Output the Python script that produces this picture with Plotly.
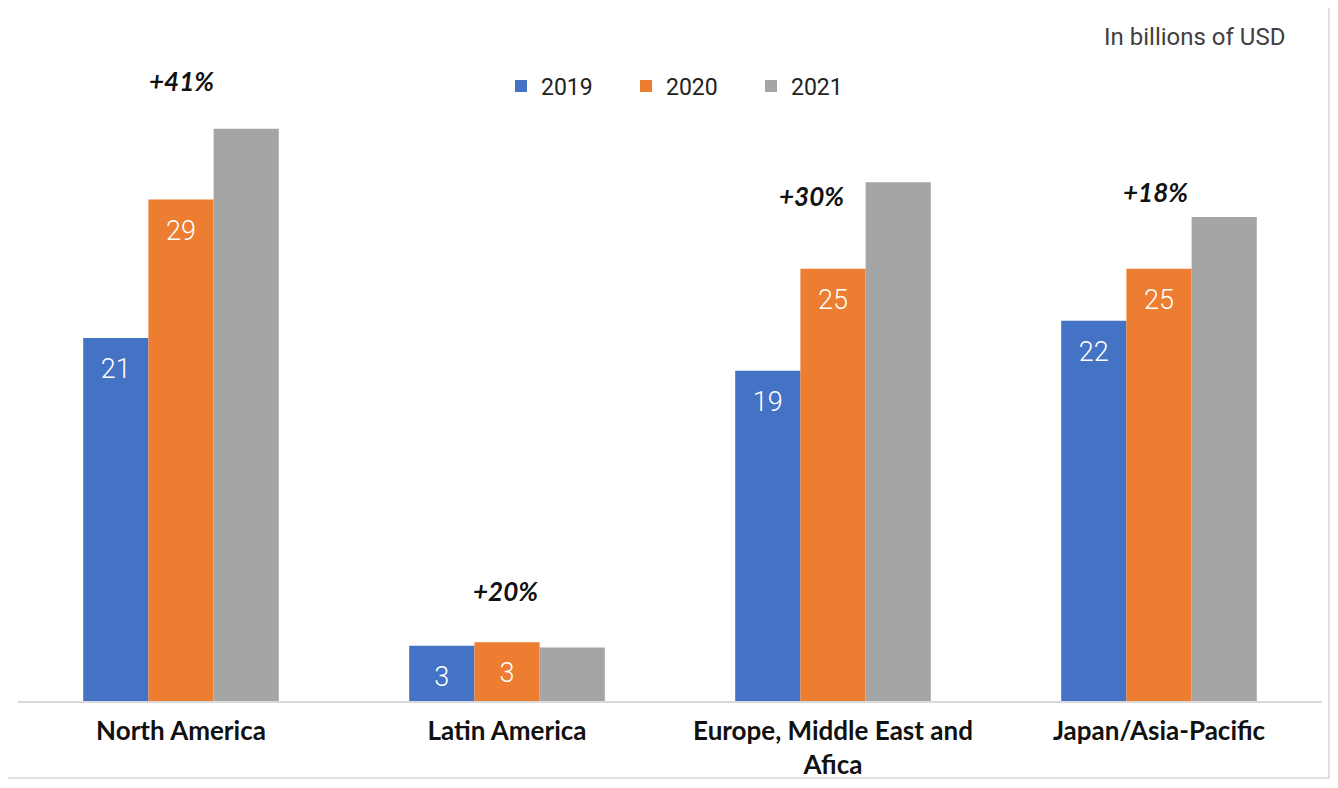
import plotly.graph_objects as go

categories = ["North America", "Latin America", "Europe, Middle East and<br>Afica", "Japan/Asia-Pacific"]
years = ["2019", "2020", "2021"]
v2019 = [21, 3.2, 19.1, 22]
v2020 = [29, 3.4, 25, 25]
v2021 = [33.1, 3.1, 30, 28]
lbl2019 = ["21", "3", "19", "22"]
lbl2020 = ["29", "3", "25", "25"]
lbl2021 = ["", "", "", ""]
growth = ["+41%", "+20%", "+30%", "+18%"]
growth_y = [35.86, 6.36, 29.2, 29.44]
growth_shift = [0, -2, -22, -4]
colors = ["#4472C4", "#ED7D31", "#A5A5A5"]

W, H = 1338, 788
PAGE = 8  # body margin of the html page
# intended plot area in page pixels
PL, PR, PT, PB = 18, 1322, 44, 701
ml, mr, mt, mb = PL - PAGE, W - (PR - PAGE), PT - PAGE, H - (PB - PAGE)
pw, ph = PR - PL, PB - PT


def px(x):
    return (x - PL) / pw


def py(y):
    return (PB - y) / ph


fig = go.Figure()
for i, (name, vals, c) in enumerate(zip(years, [v2019, v2020, v2021], colors)):
    fig.add_trace(go.Bar(
        x=categories, y=vals, name=name, marker=dict(color=c, line=dict(width=0)),
        offsetgroup=str(i), alignmentgroup="a",
    ))
for i, (vals, lbls) in enumerate(zip([v2019, v2020, v2021], [lbl2019, lbl2020, lbl2021])):
    fig.add_trace(go.Scatter(
        x=categories, y=vals, mode="markers+text", text=lbls, textposition="bottom center",
        marker=dict(size=30, opacity=0), offsetgroup=str(i), alignmentgroup="a",
        textfont=dict(color="white", size=27, family="Roboto", weight=300),
        showlegend=False, hoverinfo="skip", cliponaxis=False,
    ))

for cat, g, gy, sh in zip(categories, growth, growth_y, growth_shift):
    fig.add_annotation(x=cat, y=gy, text="<b><i>" + g + "</i></b>", showarrow=False,
                       xshift=sh, font=dict(size=26, color="#111111", family="Lato"))

fig.add_annotation(xref="paper", yref="paper", x=px(1287), y=py(37),
                   xanchor="right", yanchor="middle", text="In billions of USD", showarrow=False,
                   font=dict(size=24, color="#404040", family="Roboto"))

fig.add_shape(type="rect", xref="paper", yref="paper",
              x0=px(5), x1=px(1329), y0=py(778), y1=py(5),
              line=dict(color="#D9D9D9", width=1.5), fillcolor="rgba(0,0,0,0)", layer="below")

fig.update_layout(
    width=W, height=H,
    margin=dict(l=ml, r=mr, t=mt, b=mb),
    paper_bgcolor="white", plot_bgcolor="white",
    barmode="group", bargap=0.4, bargroupgap=0,
    scattermode="group", scattergap=0.4,
    showlegend=True,
    legend=dict(orientation="h", x=px(515 - 14), y=py(86), xanchor="left", yanchor="middle",
                font=dict(size=23, color="#222222", family="Roboto"),
                itemwidth=30, traceorder="normal", bgcolor="rgba(0,0,0,0)", entrywidth=80),
    xaxis=dict(showline=True, linecolor="#D9D9D9", linewidth=1.5, ticks="", showgrid=False,
               tickfont=dict(size=26, color="#111111", family="Lato"),
               ticklabelstandoff=6, tickprefix="<b>", ticksuffix="</b>"),
    yaxis=dict(range=[0, 38], visible=False, showgrid=False),
)

fig.write_html("out.html")
